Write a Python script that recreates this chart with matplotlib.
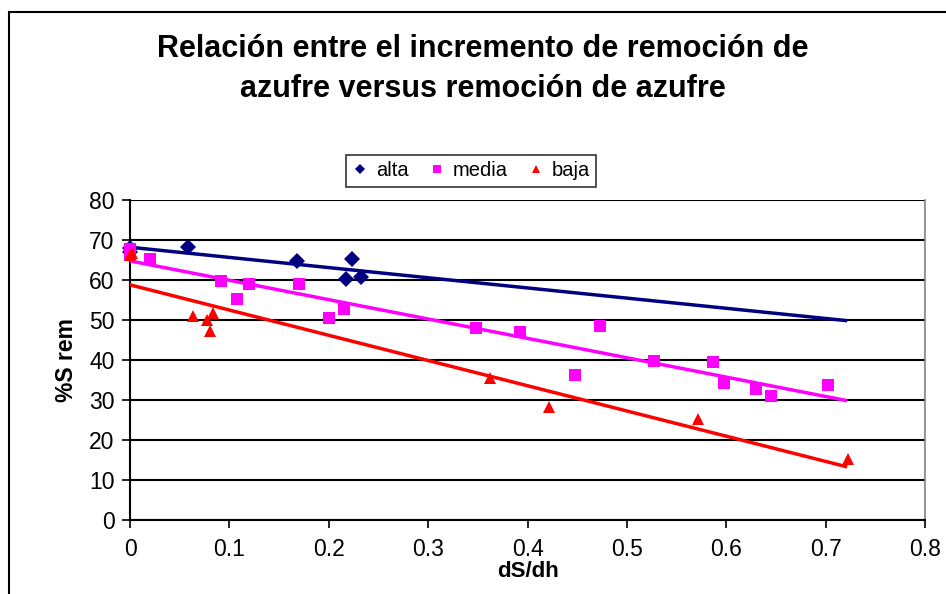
import numpy as np
import matplotlib
matplotlib.use("Agg")
import matplotlib.pyplot as plt
from matplotlib.patches import Rectangle

plt.rcParams['font.family'] = ['Liberation Sans', 'DejaVu Sans']

title = "Relación entre el incremento de remoción de\nazufre versus remoción de azufre"
xlabel = "dS/dh"
ylabel = "%S rem"

alta_x = [0.0, 0.0, 0.058, 0.168, 0.217, 0.223, 0.232]
alta_y = [67.0, 68.0, 68.3, 64.8, 60.3, 65.3, 60.8]

media_x = [0.0, 0.0, 0.02, 0.092, 0.108, 0.12, 0.17, 0.2, 0.215, 0.348, 0.392,
           0.448, 0.473, 0.527, 0.587, 0.598, 0.63, 0.645, 0.702]
media_y = [67.8, 66.5, 65.3, 59.8, 55.3, 59.0, 59.0, 50.5, 52.8, 48.0, 47.0,
           36.3, 48.5, 39.7, 39.5, 34.3, 32.8, 31.0, 33.8]

baja_x = [0.0, 0.002, 0.063, 0.077, 0.08, 0.084, 0.362, 0.422, 0.572, 0.723]
baja_y = [66.3, 66.8, 51.0, 50.0, 47.2, 51.8, 35.5, 28.3, 25.3, 15.3]

xticks = [0, 0.1, 0.2, 0.3, 0.4, 0.5, 0.6, 0.7, 0.8]
xticklabels = ["0", "0.1", "0.2", "0.3", "0.4", "0.5", "0.6", "0.7", "0.8"]
yticks = [0, 10, 20, 30, 40, 50, 60, 70, 80]

series = [
    ("alta", alta_x, alta_y, "#000080", "D", 8),
    ("media", media_x, media_y, "#FF00FF", "s", 8),
    ("baja", baja_x, baja_y, "#FF0000", "^", 9),
]

fig = plt.figure(figsize=(9.46, 5.94), dpi=100)
ax = fig.add_axes([130/946, 74/594, 795/946, 320/594])

for name, xs, ys, col, mk, ms in series:
    xs = np.array(xs); ys = np.array(ys)
    ax.plot(xs, ys, linestyle='none', marker=mk, color=col, markersize=ms,
            markeredgewidth=0, label=name, zorder=4, clip_on=False)
    m, b = np.polyfit(xs, ys, 1)
    xx = np.array([0, 0.72])
    ax.plot(xx, m*xx + b, color=col, linewidth=2.5, zorder=3)

ax.set_xlim(0, 0.8)
ax.set_ylim(0, 80)
ax.set_xticks(xticks)
ax.set_xticklabels(xticklabels)
ax.set_yticks(yticks)
ax.tick_params(axis='both', labelsize=16.5, direction='out', length=6, width=1.2, color='black')
ax.tick_params(axis='x', pad=7)
ax.tick_params(axis='y', pad=5)
ax.yaxis.grid(True, color='black', linewidth=1.5)
ax.set_axisbelow(True)
for s in ['left', 'bottom']:
    ax.spines[s].set_color('black')
    ax.spines[s].set_linewidth(1.5)
ax.spines['top'].set_visible(False)
ax.spines['right'].set_color('#808080')
ax.spines['right'].set_linewidth(1.2)

ax.set_xlabel(xlabel, fontsize=16, fontweight='bold', labelpad=0)
ax.set_ylabel(ylabel, fontsize=16.5, fontweight='bold', labelpad=8)

fig.text(483/946, 1 - 69/594, title, ha='center', va='center', fontsize=22,
         fontweight='bold', linespacing=1.42)

leg = ax.legend(loc='center', ncol=3,
                fontsize=14.5, frameon=True, fancybox=False, edgecolor='black',
                handlelength=0.8, handletextpad=0.4, columnspacing=1.0,
                borderpad=0.3, markerscale=0.7)
leg.get_frame().set_linewidth(1.2)
leg.set_bbox_to_anchor((471/946, 1 - 171/594), transform=fig.transFigure)

fig.patches.append(Rectangle((8.5/946, -0.05), 1.0, 1.05 - 12/594, transform=fig.transFigure,
                             fill=False, edgecolor='black', linewidth=1.5))

fig.savefig("out.png", dpi=100)
